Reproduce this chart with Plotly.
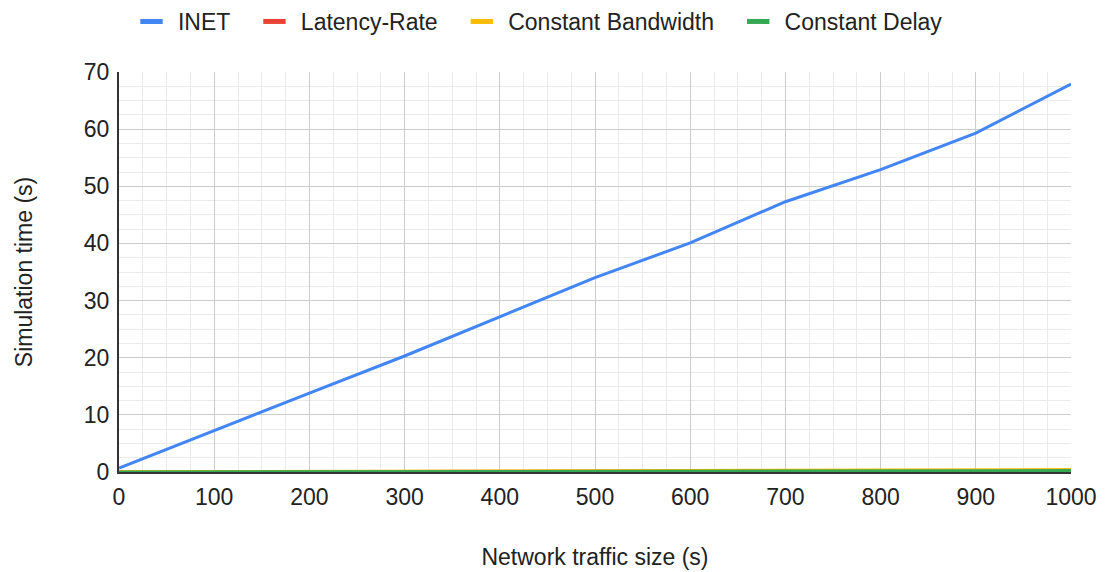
import plotly.graph_objects as go

x_vals = [0, 100, 200, 300, 400, 500, 600, 700, 800, 900, 1000]
inet = [0.7, 7.3, 13.8, 20.3, 27.2, 34.0, 40.1, 47.3, 52.9, 59.3, 67.9]
latency_rate = [0.02, 0.04, 0.06, 0.08, 0.10, 0.12, 0.14, 0.17, 0.20, 0.23, 0.26]
const_bw = [0.03, 0.06, 0.09, 0.12, 0.15, 0.18, 0.21, 0.25, 0.30, 0.36, 0.42]
const_delay = [0.01, 0.03, 0.05, 0.07, 0.09, 0.11, 0.13, 0.15, 0.18, 0.21, 0.25]

series = [
    ("INET", inet, "#4285F4"),
    ("Latency-Rate", latency_rate, "#EA4335"),
    ("Constant Bandwidth", const_bw, "#FBBC04"),
    ("Constant Delay", const_delay, "#34A853"),
]

FONT = "Liberation Sans, Arial, sans-serif"
FS = 23
NB = "\u00a0"

fig = go.Figure()
for name, ys, col in series:
    fig.add_trace(go.Scatter(x=x_vals, y=ys, name=name, mode="lines",
                             line=dict(color=col, width=3), showlegend=False))
# legend entries drawn as short thick bars
for name, ys, col in series:
    fig.add_trace(go.Scatter(x=[None], y=[None], name=NB + name + NB * 3, mode="markers",
                             marker=dict(symbol="line-ew", size=23,
                                         line=dict(color=col, width=6))))

fig.update_layout(
    width=1105, height=572,
    paper_bgcolor="white", plot_bgcolor="white",
    font=dict(family=FONT, size=FS, color="#222222"),
    margin=dict(l=119, r=34, t=72, b=100, autoexpand=False),
    showlegend=True,
    legend=dict(orientation="h", xref="container", x=0.119, xanchor="left",
                yref="container", y=1.0, yanchor="top",
                font=dict(size=FS, color="#222222"), itemwidth=30,
                bgcolor="rgba(0,0,0,0)"),
)

fig.update_xaxes(
    range=[0, 1000], dtick=100, tick0=0, automargin=False,
    showgrid=True, gridcolor="#cccccc", gridwidth=1,
    minor=dict(dtick=25, showgrid=True, gridcolor="#ebebeb", gridwidth=1),
    showline=True, linecolor="#333333", linewidth=2,
    zeroline=False, ticks="", ticklabelstandoff=3,
    title=dict(text="Network traffic size (s)", standoff=40, font=dict(size=FS)),
    tickfont=dict(size=FS),
)
fig.update_yaxes(
    range=[0, 70], dtick=10, tick0=0, automargin=False,
    showgrid=True, gridcolor="#cccccc", gridwidth=1,
    minor=dict(dtick=2.5, showgrid=True, gridcolor="#ebebeb", gridwidth=1),
    showline=True, linecolor="#333333", linewidth=2,
    zeroline=False, ticks="", ticklabelstandoff=3,
    title=dict(text="Simulation time (s)", standoff=45, font=dict(size=FS)),
    tickfont=dict(size=FS),
)

fig.write_html("out.html", config={"displayModeBar": False},
               post_script="document.body.style.margin='0';")
